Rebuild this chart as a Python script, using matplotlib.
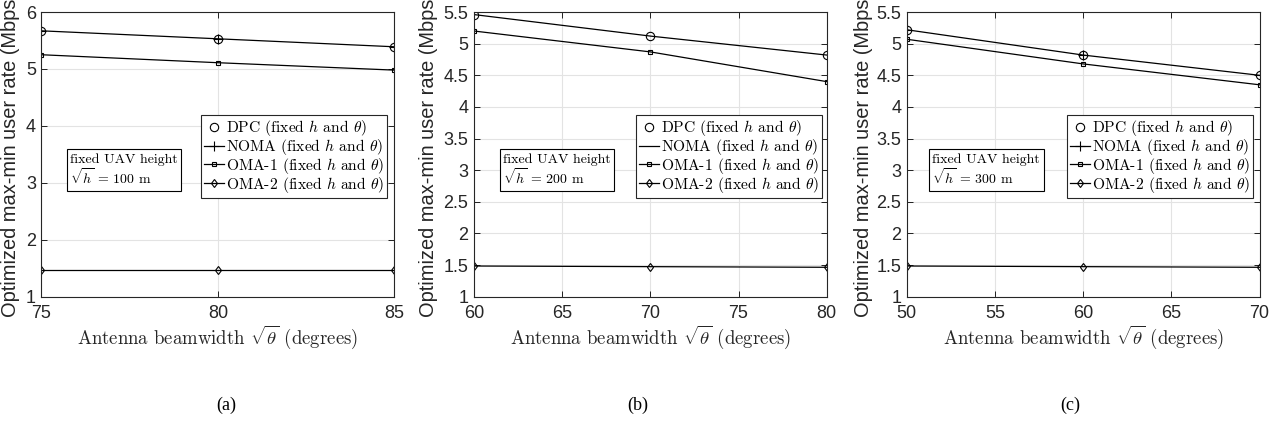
import numpy as np
from matplotlib import pyplot as plt

plt.rcParams['mathtext.fontset'] = 'cm'
plt.rcParams['font.family'] = 'Liberation Sans'

# beamwidth values for each fixed height
x_a = [75, 80, 85]
x_b = [60, 70, 80]
x_c = [50, 60, 70]

# rates (Mbps), h = 100 m
dpc_a = [5.67, 5.53, 5.39]
noma_a = [5.67, 5.53, 5.39]
oma1_a = [5.25, 5.11, 4.98]
oma2_a = [1.47, 1.47, 1.47]

# rates (Mbps), h = 200 m
dpc_b = [5.46, 5.12, 4.82]
noma_b = [5.46, 5.12, 4.82]
oma1_b = [5.20, 4.87, 4.40]
oma2_b = [1.485, 1.475, 1.465]

# rates (Mbps), h = 300 m
dpc_c = [5.22, 4.82, 4.50]
noma_c = [5.22, 4.82, 4.50]
oma1_c = [5.07, 4.68, 4.35]
oma2_c = [1.485, 1.475, 1.465]

heights = [100, 200, 300]
xticks = [[75, 80, 85], [60, 65, 70, 75, 80], [50, 55, 60, 65, 70]]
yticks = [[1, 2, 3, 4, 5, 6], np.arange(1, 5.51, 0.5), np.arange(1, 5.51, 0.5)]
ylims = [(1, 6), (1, 5.5), (1, 5.5)]
ytick_labels = [['1', '2', '3', '4', '5', '6'],
                ['1', '1.5', '2', '2.5', '3', '3.5', '4', '4.5', '5', '5.5'],
                ['1', '1.5', '2', '2.5', '3', '3.5', '4', '4.5', '5', '5.5']]
noma_marker = ['+', 'None', '+']

data = [(x_a, dpc_a, noma_a, oma1_a, oma2_a),
        (x_b, dpc_b, noma_b, oma1_b, oma2_b),
        (x_c, dpc_c, noma_c, oma1_c, oma2_c)]

lefts = [0.0323, 0.3694, 0.7067]
leg_right = [0.980, 0.986, 0.981]
box_left = [0.081, 0.083, 0.073]
ylab_x = [-0.061, -0.102, -0.096]
sub_x = [226 / 1283, 638 / 1283, 1070 / 1283]
sub_names = ['(a)', '(b)', '(c)']

fig = plt.figure(figsize=(12.83, 4.30), dpi=100)
serif = 'cmr10'

for i in range(3):
    x, dpc, noma, oma1, oma2 = data[i]
    ax = fig.add_axes([lefts[i], 0.31, 0.275, 0.662])
    ax.plot(x, dpc, linestyle='None', marker='o', color='k', markersize=6,
            markerfacecolor='none', markeredgewidth=0.8, label=r'DPC (fixed $h$ and $\theta$)')
    ax.plot(x, noma, '-', marker=noma_marker[i], color='k', lw=0.9, markersize=7,
            markeredgewidth=0.8, label=r'NOMA (fixed $h$ and $\theta$)')
    ax.plot(x, oma1, '-', marker='s', color='k', lw=0.9, markersize=3.5,
            markerfacecolor='none', markeredgewidth=0.8, label=r'OMA-1 (fixed $h$ and $\theta$)')
    ax.plot(x, oma2, '-', marker='d', color='k', lw=0.9, markersize=4.5,
            markerfacecolor='none', markeredgewidth=0.8, label=r'OMA-2 (fixed $h$ and $\theta$)')

    ax.set_xlim(x[0], x[-1])
    ax.set_ylim(*ylims[i])
    ax.set_xticks(xticks[i])
    ax.set_yticks(yticks[i])
    ax.set_yticklabels(ytick_labels[i])
    ax.tick_params(direction='in', top=True, right=True, labelsize=13, length=4,
                   width=0.6, pad=4, labelcolor='#262626')
    ax.tick_params(axis='x', pad=6)
    ax.grid(True, color='#e3e3e3', lw=0.8)
    ax.set_axisbelow(True)
    for s in ax.spines.values():
        s.set_linewidth(0.8)
        s.set_color('#262626')

    ax.set_ylabel('Optimized max-min user rate (Mbps)', fontsize=14.4, color='#262626')
    ax.yaxis.set_label_coords(ylab_x[i], 0.5)
    ax.set_xlabel(r'Antenna beamwidth $\sqrt{\theta}$ (degrees)', fontsize=13.5,
                  family=serif, labelpad=1, color='#262626')

    leg = ax.legend(loc='upper right', bbox_to_anchor=(leg_right[i], 0.6375),
                    prop={'family': serif, 'size': 11.2}, fancybox=False,
                    edgecolor='#262626', framealpha=1, handlelength=1.3,
                    handletextpad=0.1, borderpad=0.2, labelspacing=-0.08,
                    borderaxespad=0)
    leg.get_frame().set_linewidth(0.8)

    ax.text(box_left[i], 0.505, 'fixed UAV height\n' + r'$\sqrt{h}$ = %d m' % heights[i],
            transform=ax.transAxes, ha='left', va='top', fontsize=10, family=serif,
            linespacing=1.1,
            bbox=dict(boxstyle='square,pad=0.25', fc='white', ec='k', lw=0.8))

    fig.text(sub_x[i], 1 - 405 / 430, sub_names[i], ha='center', va='center',
             fontsize=13, family='Liberation Serif')

plt.savefig('out.png', dpi=100)
